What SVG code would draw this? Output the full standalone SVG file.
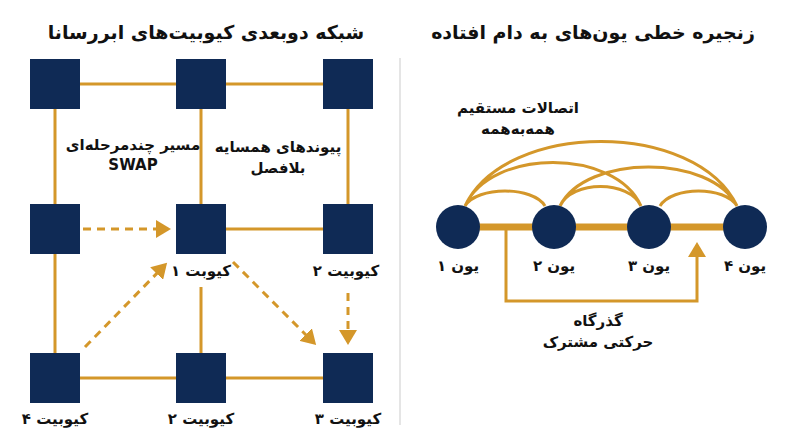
<svg xmlns="http://www.w3.org/2000/svg" width="800" height="447" viewBox="0 0 800 447">
<style>
text{font-family:"DejaVu Sans",sans-serif;font-weight:bold;fill:#111;text-anchor:middle}
.t{font-size:19px}.l{font-size:15px}
.sq{fill:#0f2a55}.ln{stroke:#d4972a;stroke-width:3;fill:none}
.ds{stroke:#d4972a;stroke-width:3;fill:none;stroke-dasharray:8 6;marker-end:url(#ah)}
.ion{fill:#0f2a55}
</style>
<defs><marker id="ah" markerWidth="6" markerHeight="6" refX="4" refY="3" orient="auto" markerUnits="strokeWidth"><path d="M0,0 L5,3 L0,6 z" fill="#d4972a"/></marker>
<marker id="ah2" markerWidth="6" markerHeight="6" refX="4" refY="3" orient="auto" markerUnits="strokeWidth"><path d="M0,0 L5,3 L0,6 z" fill="#d4972a"/></marker></defs>
<rect width="800" height="447" fill="#fff"/>
<line x1="400" y1="58" x2="400" y2="425" stroke="#ddd" stroke-width="1.5"/>
<text class="t" x="206" y="39">شبکه دوبعدی کیوبیت‌های ابررسانا</text>
<text class="t" x="593" y="39">زنجیره خطی یون‌های به دام افتاده</text>
<g id="connectors">
<path class="ln" d="M80 84H176M226 84H323M55 109V353M201 109V204M348 109V204M226 229H323M201 287V353M80 378H176M226 378H323"/>
<line class="ds" x1="83" y1="229" x2="168" y2="229"/>
<line class="ds" x1="85" y1="347" x2="165" y2="265"/>
<line class="ds" x1="233" y1="262" x2="314" y2="343"/>
<line class="ds" x1="348" y1="293" x2="348" y2="342"/>
<line x1="458" y1="227" x2="745" y2="227" stroke="#d4972a" stroke-width="7"/>
<path class="ln" d="M465 206C477 186 533 186 545 206M465 206C491 148 615 148 641 206M465 206C506 120 696 120 737 206M560 206C586 154 711 154 737 206M560 206C572 180 629 180 641 206M660 206C672 186 725 186 737 206"/>
<path class="ln" d="M506 230V301H697V245" marker-end="url(#ah2)"/>
</g>
<g id="q1"><rect class="sq" x="30" y="59" width="50" height="50"/></g>
<g id="q2"><rect class="sq" x="176" y="59" width="50" height="50"/></g>
<g id="q3"><rect class="sq" x="323" y="59" width="50" height="50"/></g>
<g id="q4"><rect class="sq" x="30" y="204" width="50" height="50"/></g>
<g id="q5"><rect class="sq" x="176" y="204" width="50" height="50"/><text class="l" x="201" y="276">کیوبت ۱</text></g>
<g id="q6"><rect class="sq" x="323" y="204" width="50" height="50"/><text class="l" x="346" y="276">کیوبیت ۲</text></g>
<g id="q7"><rect class="sq" x="30" y="353" width="50" height="50"/><text class="l" x="55" y="424">کیوبیت ۴</text></g>
<g id="q8"><rect class="sq" x="176" y="353" width="50" height="50"/><text class="l" x="201" y="424">کیوبیت ۲</text></g>
<g id="q9"><rect class="sq" x="323" y="353" width="50" height="50"/><text class="l" x="348" y="424">کیوبیت ۳</text></g>
<g id="lbl-swap"><text class="l" x="133" y="150">مسیر چندمرحله‌ای</text><text class="l" x="133" y="170">SWAP</text></g>
<g id="lbl-nb"><text class="l" x="278" y="152">پیوندهای همسایه</text><text class="l" x="278" y="173">بلافصل</text></g>
<g id="ion1"><circle class="ion" cx="458" cy="227" r="22"/><text class="l" x="458" y="271">یون ۱</text></g>
<g id="ion2"><circle class="ion" cx="554" cy="227" r="22"/><text class="l" x="554" y="271">یون ۲</text></g>
<g id="ion3"><circle class="ion" cx="649" cy="227" r="22"/><text class="l" x="649" y="271">یون ۳</text></g>
<g id="ion4"><circle class="ion" cx="745" cy="227" r="22"/><text class="l" x="745" y="271">یون ۴</text></g>
<g id="lbl-all"><text class="l" x="518" y="113">اتصالات مستقیم</text><text class="l" x="518" y="134">همه‌به‌همه</text></g>
<g id="lbl-shuttle"><text class="l" x="598" y="326">گذرگاه</text><text class="l" x="598" y="347">حرکتی مشترک</text></g>
</svg>
